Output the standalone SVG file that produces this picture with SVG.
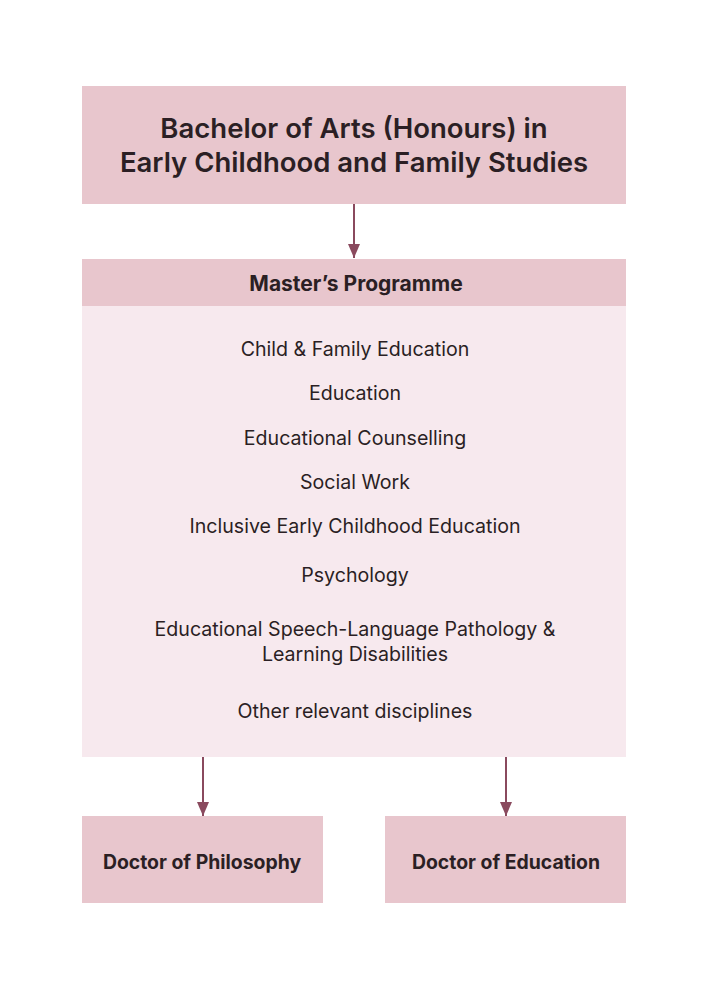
<svg xmlns="http://www.w3.org/2000/svg" width="709" height="1004" viewBox="0 0 709 1004">
<defs>
<style>
.hd{fill:#e8c6cd}
.bd{fill:#f7e9ee}
.t{font-family:Inter,"Liberation Sans",sans-serif;fill:#2b1f24;text-anchor:middle;dominant-baseline:central}
.title{font-size:27.5px;font-weight:600}
.mh{font-size:21px;font-weight:700}
.h{font-size:19.4px;font-weight:700}
.i{font-size:19.6px;font-weight:400}
.c{stroke:#8a4a5e;stroke-width:2;fill:none}
</style>
<marker id="ah" markerWidth="14" markerHeight="12" viewBox="0 0 14 12" refX="14" refY="6" orient="auto" markerUnits="userSpaceOnUse">
<path d="M0,0 L14,6 L0,12 Z" fill="#8a4a5e"/>
</marker>
</defs>
<rect width="709" height="1004" fill="#ffffff"/>
<g id="bachelor">
<rect class="hd" x="82" y="86" width="544" height="118"/>
<text class="t title" x="354" y="128">Bachelor of Arts (Honours) in</text>
<text class="t title" x="354" y="162">Early Childhood and Family Studies</text>
</g>
<g id="masters">
<rect class="bd" x="82" y="306" width="544" height="451"/>
<rect class="hd" x="82" y="259" width="544" height="47"/>
<text class="t mh" x="356" y="283">Master’s Programme</text>
<text class="t i" x="355" y="349">Child &amp; Family Education</text>
<text class="t i" x="355" y="393">Education</text>
<text class="t i" x="355" y="438">Educational Counselling</text>
<text class="t i" x="355" y="482">Social Work</text>
<text class="t i" x="355" y="526">Inclusive Early Childhood Education</text>
<text class="t i" x="355" y="575">Psychology</text>
<text class="t i" x="355" y="629">Educational Speech-Language Pathology &amp;</text>
<text class="t i" x="355" y="654">Learning Disabilities</text>
<text class="t i" x="355" y="711">Other relevant disciplines</text>
</g>
<g id="phd">
<rect class="hd" x="82" y="816" width="241" height="87"/>
<text class="t h" x="202" y="862">Doctor of Philosophy</text>
</g>
<g id="edd">
<rect class="hd" x="385" y="816" width="241" height="87"/>
<text class="t h" x="506" y="862">Doctor of Education</text>
</g>
<g id="connectors">
<line class="c" x1="354" y1="204" x2="354" y2="258" marker-end="url(#ah)"/>
<line class="c" x1="203" y1="757" x2="203" y2="816" marker-end="url(#ah)"/>
<line class="c" x1="506" y1="757" x2="506" y2="816" marker-end="url(#ah)"/>
</g>
</svg>
